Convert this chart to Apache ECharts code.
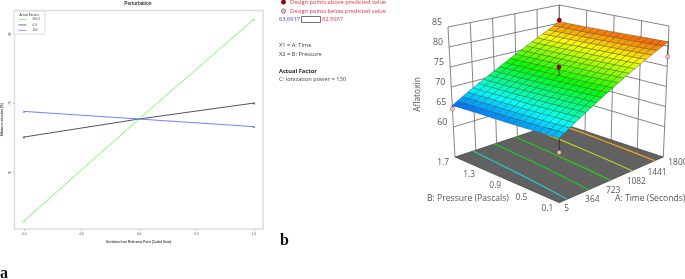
<!DOCTYPE html>
<html><head><meta charset="utf-8">
<style>html,body{margin:0;padding:0;background:#fff}#c{width:685px;height:279px}</style>
<script src="https://cdn.jsdelivr.net/npm/echarts@6/dist/echarts.min.js"></script>
</head><body><div id="c"></div>
<script>
// Panel a: perturbation plot
const deviation = [-1, 0, 1];
const lineNames = ['900.3', '0.9', '130'];
const lineA = [53.0, 67.7, 82.1];
const lineB = [65.1, 67.7, 70.0];
const lineC = [68.8, 67.7, 66.6];
const xTicks = [-1, -0.5, 0, 0.5, 1];
const yTicks = [60, 70, 80];

// Panel b: response surface, values read at the axis tick marks.
// The drawn mesh (20 x 16 facets) subdivides this table, as the fitted surface is smooth.
const timeTicks = [5, 364, 723, 1082, 1441, 1800];
const pressureTicks = [0.1, 0.5, 0.9, 1.3, 1.7];
const zTicks = [60, 65, 70, 75, 80, 85];
const aflatoxin = [
  [66.9, 69.8, 72.7, 75.6, 78.4, 81.1],
  [66.5, 69.4, 72.3, 75.2, 78.1, 80.9],
  [66.1, 69.0, 71.9, 74.9, 77.8, 80.7],
  [65.8, 68.7, 71.6, 74.6, 77.5, 80.5],
  [65.4, 68.4, 71.3, 74.3, 77.3, 80.4]
];
const contourLevels = [68, 71, 74, 77, 80];
const contourColors = ['#22c8cc', '#18c828', '#22d010', '#bcd020', '#f0a818'];
const designTime = [1800, 902.5, 5, 1800, 5];
const designPressure = [1.7, 0.9, 1.7, 0.1, 0.1];
const designValue = [80.8, 75.5, 64.5, 77.4, 63.7];
const designAbove = [1, 1, 0, 0, 0];
const colorMin = 63.6917, colorMax = 82.5967;
const zFloor = 52.5, zTop = 85;

// View of the 3D box: where its eight corners land on the page
const view = {
  floor: {front: [559.3, 202.7], right: [663.3, 157], left: [455, 157], back: [559, 122.5]},
  top: {front: [559, 57], right: [669, 26], left: [448, 27], back: [559.3, 5]}
};
const tMin = timeTicks[0], tMax = timeTicks[timeTicks.length - 1];
const pMin = pressureTicks[0], pMax = pressureTicks[pressureTicks.length - 1];
function project(t, p, z) {
  const u = (t - tMin) / (tMax - tMin), v = (p - pMin) / (pMax - pMin), w = (z - zFloor) / (zTop - zFloor);
  const mix = (s, i) => (1 - u) * (1 - v) * s.front[i] + u * (1 - v) * s.right[i] + (1 - u) * v * s.left[i] + u * v * s.back[i];
  return [0, 1].map(i => (1 - w) * mix(view.floor, i) + w * mix(view.top, i));
}
function bracket(ticks, x) {
  let i = 0;
  while (i < ticks.length - 2 && x > ticks[i + 1]) i++;
  return [i, (x - ticks[i]) / (ticks[i + 1] - ticks[i])];
}
function surface(t, p) {
  const [i, a] = bracket(timeTicks, t), [j, b] = bracket(pressureTicks, p);
  const r = aflatoxin;
  return (1 - b) * ((1 - a) * r[j][i] + a * r[j][i + 1]) + b * ((1 - a) * r[j + 1][i] + a * r[j + 1][i + 1]);
}

// facets
const facetData = [];
const NT = 20, NP = 16;
for (let j = 0; j < NP; j++) for (let i = 0; i < NT; i++) {
  const t0 = tMin + (tMax - tMin) * i / NT, t1 = tMin + (tMax - tMin) * (i + 1) / NT;
  const p0 = pMin + (pMax - pMin) * j / NP, p1 = pMin + (pMax - pMin) * (j + 1) / NP;
  facetData.push([t0, t1, p0, p1, surface((t0 + t1) / 2, (p0 + p1) / 2)]);
}
// wall grid lines
const wallLines = [];
zTicks.forEach(z => {
  wallLines.push([tMin, pMax, z, tMax, pMax, z]);
  wallLines.push([tMax, pMax, z, tMax, pMin, z]);
});
timeTicks.forEach(t => wallLines.push([t, pMax, zFloor, t, pMax, zTop]));
pressureTicks.forEach(p => wallLines.push([tMax, p, zFloor, tMax, p, zTop]));

// contour paths on the floor
function contourPath(level) {
  return pressureTicks.map((p, j) => {
    const row = aflatoxin[j];
    let k = 0;
    while (k < row.length - 2 && level > row[k + 1]) k++;
    const f = (level - row[k]) / (row[k + 1] - row[k]);
    return [timeTicks[k] + f * (timeTicks[k + 1] - timeTicks[k]), p];
  });
}
const stemData = designTime.map((t, i) => [t, designPressure[i], designValue[i], surface(t, designPressure[i])]);

// 3D axis labels
const textData = [];
timeTicks.forEach(t => textData.push({pos: [t, pMin, zFloor], dx: 5, dy: 6, align: 'left', text: String(t), size: 8.4}));
pressureTicks.forEach(p => textData.push({pos: [tMin, p, zFloor], dx: -6, dy: 6, align: 'right', text: p.toFixed(1), size: 8.4}));
zTicks.forEach(z => textData.push({pos: [tMin, pMax, z], dx: -6, dy: -4.5, align: 'right', text: String(z), size: 8.8}));

const grayText = '#555';
const sans = '"Open Sans", sans-serif';
const lineColors = ['#70ff60', '#555555', '#7080ff'];
const lineSeries = [lineA, lineB, lineC].map((vals, k) => ({
  type: 'line', name: lineNames[k], xAxisIndex: 0, yAxisIndex: 0,
  data: vals.map((v, i) => ({value: [deviation[i], v], symbolSize: i === 1 ? 0 : 2.5})),
  symbol: 'triangle', lineStyle: {color: lineColors[k], width: 1}, itemStyle: {color: lineColors[k]},
  silent: true
}));
const hidden = {xAxisIndex: 1, yAxisIndex: 1, silent: true, coordinateSystem: 'cartesian2d'};
const at = (api, t, p, z) => api.coord(project(t, p, z));
const series = lineSeries.concat([
  Object.assign({}, hidden, { // floor
    type: 'custom', z: 3, data: [[0]],
    renderItem: (params, api) => ({type: 'polygon', shape: {points: [
      at(api, tMin, pMin, zFloor), at(api, tMax, pMin, zFloor), at(api, tMax, pMax, zFloor), at(api, tMin, pMax, zFloor)
    ]}, style: {fill: '#616161', stroke: '#333', lineWidth: 0.6}})
  }),
  Object.assign({}, hidden, { // walls
    type: 'custom', z: 2, data: wallLines,
    renderItem: (params, api) => {
      const a = at(api, api.value(0), api.value(1), api.value(2)), b = at(api, api.value(3), api.value(4), api.value(5));
      return {type: 'line', shape: {x1: a[0], y1: a[1], x2: b[0], y2: b[1]}, style: {stroke: '#666', lineWidth: 0.8}};
    }
  }),
  Object.assign({}, hidden, { // contours
    type: 'custom', z: 4, data: contourLevels.map(l => [l]),
    renderItem: (params, api) => ({type: 'polyline',
      shape: {points: contourPath(api.value(0)).map(q => at(api, q[0], q[1], zFloor))},
      style: {fill: 'none', stroke: contourColors[params.dataIndex], lineWidth: 1.2}})
  }),
  Object.assign({}, hidden, { // stems
    type: 'custom', z: 5, data: stemData,
    renderItem: (params, api) => {
      const a = at(api, api.value(0), api.value(1), api.value(2)), b = at(api, api.value(0), api.value(1), api.value(3));
      return {type: 'line', shape: {x1: a[0], y1: a[1], x2: b[0], y2: b[1]}, style: {stroke: '#222', lineWidth: 0.8}};
    }
  }),
  Object.assign({}, hidden, { // surface facets
    type: 'custom', id: 'surface', z: 6, data: facetData, encode: {value: 4},
    renderItem: (params, api) => {
      const t0 = api.value(0), t1 = api.value(1), p0 = api.value(2), p1 = api.value(3), v = (t, p) => surface(t, p);
      return {type: 'polygon', shape: {points: [
        at(api, t0, p0, v(t0, p0)), at(api, t1, p0, v(t1, p0)), at(api, t1, p1, v(t1, p1)), at(api, t0, p1, v(t0, p1))
      ]}, style: {fill: api.visual('color'), stroke: '#3c4a44', lineWidth: 0.4}};
    }
  }),
  Object.assign({}, hidden, { // stems above the surface, and design points
    type: 'custom', z: 7, data: stemData,
    renderItem: (params, api) => {
      const above = designAbove[params.dataIndex];
      const a = at(api, api.value(0), api.value(1), api.value(2)), b = at(api, api.value(0), api.value(1), api.value(3));
      const children = [{type: 'circle', shape: {cx: a[0], cy: a[1], r: 2.1},
        style: {fill: above ? '#a00014' : '#f6c4c8', stroke: above ? '#600010' : '#a06060', lineWidth: 0.6}}];
      if (above) children.unshift({type: 'line', shape: {x1: a[0], y1: a[1], x2: b[0], y2: b[1]}, style: {stroke: '#222', lineWidth: 0.8}});
      return {type: 'group', children};
    }
  }),
  Object.assign({}, hidden, { // tick labels
    type: 'custom', z: 8, data: textData.map((d, i) => [i]),
    renderItem: (params, api) => {
      const d = textData[params.dataIndex], a = at(api, d.pos[0], d.pos[1], d.pos[2]);
      return {type: 'text', style: {x: a[0] + d.dx, y: a[1] + d.dy, text: d.text, fill: grayText,
        font: d.size + 'px ' + sans, align: d.align, verticalAlign: 'middle'}};
    }
  })
]);
const surfaceIndex = series.findIndex(s => s.id === 'surface');
const txt = (x, y, text, fill, extra) => ({type: 'text', x, y, z: 20, silent: true,
  style: Object.assign({text, fill, font: '5.7px ' + sans, textVerticalAlign: 'middle'}, extra || {})});
const chart = echarts.init(document.getElementById('c'), null, {renderer: 'canvas'});
chart.setOption({
  animation: false, backgroundColor: '#fff',
  title: {text: 'Perturbation', left: 138, top: 1.5, textAlign: 'center', padding: 0,
    textStyle: {fontSize: 4.6, fontWeight: 'bold', color: '#333', fontFamily: 'Liberation Sans'}},
  legend: {data: lineNames, orient: 'vertical', left: 18, top: 18, padding: 0, itemWidth: 8, itemHeight: 2, itemGap: 2.4,
    itemStyle: {opacity: 0}, lineStyle: {width: 0.8},
    textStyle: {fontSize: 3, color: '#444', padding: [0, 0, 0, 1], fontFamily: 'Liberation Sans'}, selectedMode: false},
  grid: [
    {left: 14, right: 422, top: 10.5, bottom: 50, show: true, borderColor: '#dddddd', borderWidth: 1.5, backgroundColor: '#fff'},
    {left: 0, top: 0, right: 0, bottom: 0, show: false}
  ],
  xAxis: [
    {type: 'value', gridIndex: 0, min: -1.082, max: 1.078, name: 'Deviation from Reference Point (Coded Units)',
      nameLocation: 'middle', nameGap: 11.5, nameTextStyle: {fontSize: 3, fontWeight: 'bold', color: '#444', fontFamily: 'Liberation Sans'},
      splitLine: {show: false}, axisLine: {show: false, onZero: false},
      axisTick: {show: true, length: 2, customValues: xTicks, lineStyle: {color: '#999', width: 0.5}},
      axisLabel: {fontSize: 3, color: '#444', margin: 3.5, customValues: xTicks, formatter: v => v.toFixed(1), fontFamily: 'Liberation Sans'}},
    {type: 'value', gridIndex: 1, min: 0, max: 685, show: false}
  ],
  yAxis: [
    {type: 'value', gridIndex: 0, min: 51.84, max: 83.35, name: 'Aflatoxin reduction (%)',
      nameLocation: 'middle', nameGap: 10.5, nameTextStyle: {fontSize: 3, fontWeight: 'bold', color: '#444', fontFamily: 'Liberation Sans'},
      splitLine: {show: false}, axisLine: {show: false, onZero: false},
      axisTick: {show: true, length: 2, customValues: yTicks, lineStyle: {color: '#999', width: 0.5}},
      axisLabel: {fontSize: 3, color: '#444', margin: 3, rotate: 90, customValues: yTicks, fontFamily: 'Liberation Sans'}},
    {type: 'value', gridIndex: 1, min: 0, max: 279, inverse: true, show: false}
  ],
  visualMap: {show: false, type: 'continuous', seriesIndex: surfaceIndex, dimension: 4, min: colorMin, max: colorMax,
    inRange: {color: ['#0000ff', '#00ffff', '#00ff00', '#ffff00', '#ff0000']}},
  series,
  graphic: [
    {type: 'rect', z: 1, silent: true, shape: {x: 14, y: 11, width: 31, height: 23}, style: {fill: '#fff', stroke: '#dddddd', lineWidth: 1}},
    {type: 'text', z: 20, silent: true, x: 19.5, y: 14.7, style: {text: 'Actual Factors:', fill: '#333', font: '3px "Liberation Sans"', textVerticalAlign: 'middle'}},
    {type: 'circle', z: 20, silent: true, shape: {cx: 283.5, cy: 2, r: 2.2}, style: {fill: '#8a0010', stroke: '#600010', lineWidth: 0.5}},
    {type: 'circle', z: 20, silent: true, shape: {cx: 283.5, cy: 11, r: 2.1}, style: {fill: '#f6c4c8', stroke: '#555', lineWidth: 0.7}},
    txt(290, 2, 'Design points above predicted value', '#e03040'),
    txt(290, 11, 'Design points below predicted value', '#e03040'),
    txt(279, 19.5, '63.6917', '#4040f0'),
    {type: 'rect', z: 20, silent: true, shape: {x: 301.5, y: 16.5, width: 19, height: 6}, style: {fill: '#fff', stroke: '#333', lineWidth: 0.7}},
    txt(322, 19.5, '82.5967', '#f03040'),
    txt(279, 45, 'X1 = A: Time', '#444'),
    txt(279, 54, 'X2 = B: Pressure', '#444'),
    txt(279, 71, 'Actual Factor', '#222', {font: 'bold 5.7px ' + sans}),
    txt(279, 79.5, 'C: Ionization power = 130', '#444'),
    txt(427, 199, 'B: Pressure (Pascals)', grayText, {font: '8.6px ' + sans}),
    txt(615, 199, 'A: Time (Seconds)', grayText, {font: '8.6px ' + sans}),
    {type: 'text', z: 20, silent: true, x: 417.5, y: 94.5, rotation: Math.PI / 2, style: {text: 'Aflatoxin', fill: grayText, font: '8.4px ' + sans, textAlign: 'center', textVerticalAlign: 'middle'}},
    {type: 'text', z: 20, silent: true, x: 280, y: 241, style: {text: 'b', fill: '#111', font: 'bold 16px "Liberation Serif"', textVerticalAlign: 'middle'}},
    {type: 'text', z: 20, silent: true, x: 0, y: 274, style: {text: 'a', fill: '#111', font: 'bold 16px "Liberation Serif"', textVerticalAlign: 'middle'}}
  ]
});
</script></body></html>
